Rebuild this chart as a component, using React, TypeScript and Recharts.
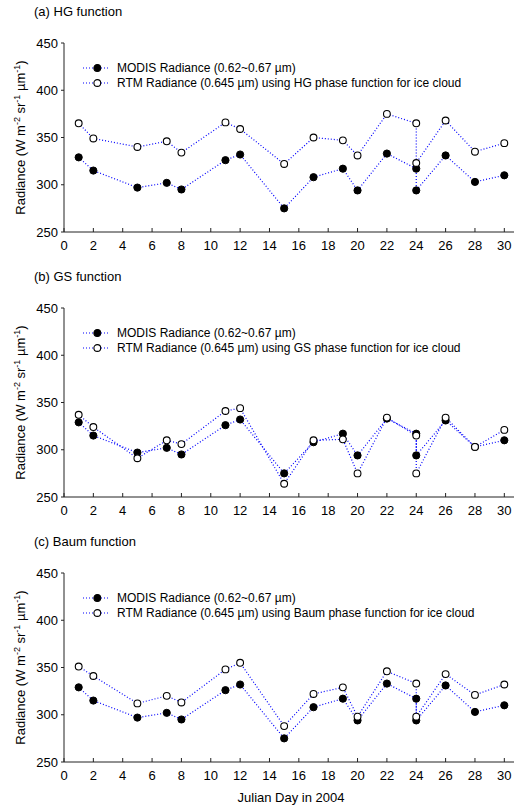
import React from 'react';
import { LineChart, Line, XAxis, YAxis, Label } from 'recharts';

// Julian days (two retrievals on day 24)
const days = [1, 2, 5, 7, 8, 11, 12, 15, 17, 19, 20, 22, 24, 24, 26, 28, 30];

// MODIS radiance, same in all three panels
const modis = [329, 315, 297, 302, 295, 326, 332, 275, 308, 317, 294, 333, 317, 294, 331, 303, 310];

// RTM radiance per phase function
const rtmHG = [365, 349, 340, 346, 334, 366, 359, 322, 350, 347, 331, 375, 365, 323, 368, 335, 344];
const rtmGS = [337, 324, 291, 310, 306, 341, 344, 264, 310, 311, 275, 334, 315, 275, 334, 303, 321];
const rtmBaum = [351, 341, 312, 320, 313, 348, 355, 288, 322, 329, 298, 346, 333, 298, 343, 321, 332];

const xTicks = [0, 2, 4, 6, 8, 10, 12, 14, 16, 18, 20, 22, 24, 26, 28, 30];
const yTicks = [250, 300, 350, 400, 450];

const panels = [
  { title: '(a) HG function', name: 'HG', rtm: rtmHG },
  { title: '(b) GS function', name: 'GS', rtm: rtmGS },
  { title: '(c) Baum function', name: 'Baum', rtm: rtmBaum },
];

const FONT = '"Liberation Sans", Arial, Helvetica, sans-serif';
const BLUE = '#0000ff';

const XTick = (props: any) => {
  const { x, y, payload } = props;
  return (
    <g>
      <line x1={x} y1={y} x2={x} y2={y - 4} stroke="#222" strokeWidth={1} />
      <text x={x} y={y + 18} textAnchor="middle" fontSize={13} fill="#000" fontFamily={FONT}>
        {payload.value}
      </text>
    </g>
  );
};

const YLabel = (props: any) => {
  const vb = props.viewBox || {};
  const cx = 25;
  const cy = vb.y + vb.height / 2;
  return (
    <text
      x={cx}
      y={cy}
      transform={`rotate(-90, ${cx}, ${cy})`}
      textAnchor="middle"
      fontSize={13}
      fill="#000"
      fontFamily={FONT}
    >
      <tspan>Radiance (W m</tspan>
      <tspan dy={-5} fontSize={9}>-2</tspan>
      <tspan dy={5}> sr</tspan>
      <tspan dy={-5} fontSize={9}>-1</tspan>
      <tspan dy={5}> µm</tspan>
      <tspan dy={-5} fontSize={9}>-1</tspan>
      <tspan dy={5}>)</tspan>
    </text>
  );
};

// markers drawn by hand so they don't inherit the line's dash pattern
const FilledDot = (props: any) => {
  const { cx, cy, index } = props;
  if (cx == null || cy == null) return null;
  return <circle key={`f${index}`} cx={cx} cy={cy} r={3.6} fill="#000" stroke="#000" strokeWidth={1} />;
};

const OpenDot = (props: any) => {
  const { cx, cy, index } = props;
  if (cx == null || cy == null) return null;
  return <circle key={`o${index}`} cx={cx} cy={cy} r={3.4} fill="#fff" stroke="#000" strokeWidth={1.1} />;
};

const LegendRow = ({ filled, text }: { filled: boolean; text: string }) => (
  <div style={{ display: 'flex', alignItems: 'center', height: 15.6 }}>
    <svg width={34} height={14} style={{ flex: 'none' }}>
      <line x1={0} y1={7} x2={27} y2={7} stroke={BLUE} strokeWidth={1.2} strokeDasharray="1 2" />
      <circle cx={14.3} cy={7} r={3.4} fill={filled ? '#000' : '#fff'} stroke="#000" strokeWidth={1.1} />
    </svg>
    <span style={{ whiteSpace: 'nowrap' }}>{text}</span>
  </div>
);

const Panel = ({ title, name, rtm }: { title: string; name: string; rtm: number[] }) => {
  const data = days.map((d, i) => ({ day: d, modis: modis[i], rtm: rtm[i] }));
  return (
    <div style={{ position: 'relative', width: 514, height: 265 }}>
      <div style={{ position: 'absolute', left: 34, top: 4, fontSize: 13, lineHeight: '16px', fontFamily: FONT }}>
        {title}
      </div>
      <LineChart width={514} height={265} data={data} margin={{ top: 43, right: 0, bottom: 8, left: 0 }}>
        <XAxis
          dataKey="day"
          type="number"
          domain={[0, 30.66]}
          ticks={xTicks}
          interval={0}
          height={25}
          tickSize={0}
          tickMargin={0}
          tick={<XTick />}
          axisLine={{ stroke: '#222', strokeWidth: 1 }}
          allowDataOverflow
        />
        <XAxis
          xAxisId="top"
          orientation="top"
          dataKey="day"
          type="number"
          domain={[0, 30.66]}
          height={0}
          tick={false}
          tickLine={false}
          axisLine={{ stroke: '#444', strokeWidth: 1 }}
        />
        <YAxis
          type="number"
          domain={[250, 450]}
          ticks={yTicks}
          interval={0}
          width={64}
          tickSize={3}
          tickMargin={3}
          tick={{ fontSize: 13, fill: '#000', fontFamily: FONT }}
          tickLine={{ stroke: '#222' }}
          axisLine={{ stroke: '#222', strokeWidth: 1 }}
        >
          <Label content={<YLabel />} />
        </YAxis>
        <Line
          dataKey="modis"
          type="linear"
          stroke={BLUE}
          strokeWidth={1.2}
          strokeDasharray="1 2"
          dot={<FilledDot />}
          isAnimationActive={false}
        />
        <Line
          dataKey="rtm"
          type="linear"
          stroke={BLUE}
          strokeWidth={1.2}
          strokeDasharray="1 2"
          dot={<OpenDot />}
          isAnimationActive={false}
        />
      </LineChart>
      <div style={{ position: 'absolute', left: 83, top: 60, fontSize: 12, fontFamily: FONT, color: '#000' }}>
        <LegendRow filled text="MODIS Radiance (0.62~0.67 µm)" />
        <LegendRow filled={false} text={`RTM Radiance (0.645 µm) using ${name} phase function for ice cloud`} />
      </div>
    </div>
  );
};

export default function App() {
  return (
    <div style={{ position: 'absolute', left: 0, top: 0, width: 514, height: 807, background: '#fff', fontFamily: FONT }}>
      {panels.map(p => (
        <Panel key={p.name} title={p.title} name={p.name} rtm={p.rtm} />
      ))}
      <div style={{ position: 'absolute', left: 64, top: 790, width: 454, textAlign: 'center', fontSize: 13, lineHeight: '16px' }}>
        Julian Day in 2004
      </div>
    </div>
  );
}
